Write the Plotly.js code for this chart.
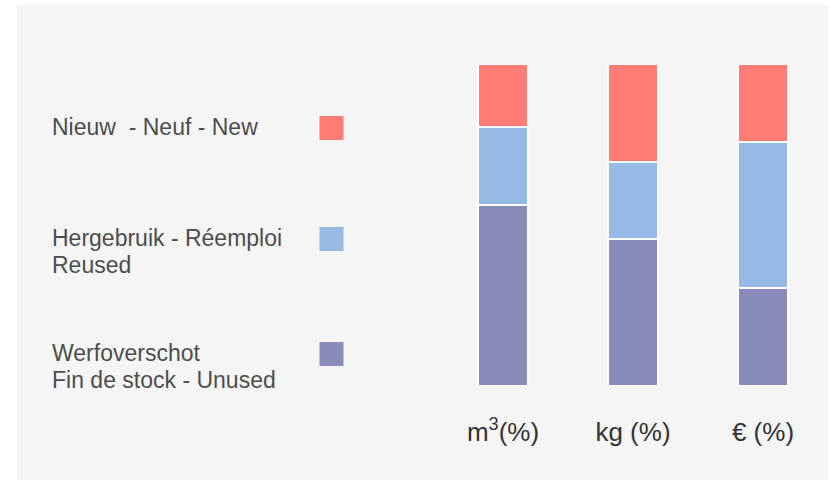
<!DOCTYPE html>
<html><head><meta charset="utf-8">
<script src="https://cdn.plot.ly/plotly-3.0.1.min.js"></script>
<style>html,body{margin:0;padding:0;background:#fff}</style>
</head><body><div id="chart" style="width:831px;height:482px"></div>
<script>
// ---- data ----
const categories = ["m<sup>3</sup>(%)", "kg (%)", "€ (%)"];
const seriesNames = ["Werfoverschot<br>Fin de stock - Unused", "Hergebruik - Réemploi<br>Reused", "Nieuw  - Neuf - New"];
const unusedValues = [56.2, 45.8, 30.5];
const reusedValues = [24.2, 23.7, 45.2];
const newValues = [19.6, 30.5, 24.3];
const seriesColors = ["#898cb9", "#97b9e5", "#fe7c74"];

// ---- layout geometry (pixels) ----
const W = 831, H = 482;
const M = {l: 438, r: 3, t: 64, b: 96};
const PW = W - M.l - M.r, PH = H - M.t - M.b;
const px2x = px => (px - M.l) / PW;
const py2y = py => (H - M.b - py) / PH;
const FONT = "Liberation Sans, Arial, sans-serif";

const seriesValues = [unusedValues, reusedValues, newValues];
const traces = seriesValues.map((vals, i) => ({
  type: "bar",
  name: seriesNames[i],
  x: categories,
  y: vals,
  width: 50 / 130,
  marker: {color: seriesColors[i], line: {color: "#ffffff", width: 2}},
  hoverinfo: "skip"
}));

// custom legend (text left, swatch right), top to bottom: New, Reused, Unused
const swatchTops = [116, 227, 342];
const shapes = [{
  type: "rect", xref: "paper", yref: "paper", layer: "below",
  x0: px2x(17), x1: px2x(828), y0: py2y(480), y1: py2y(5),
  fillcolor: "#f5f5f5", line: {width: 0}
}];
const annotations = [];
[2, 1, 0].forEach((si, k) => {
  const top = swatchTops[k];
  shapes.push({
    type: "rect", xref: "paper", yref: "paper",
    x0: px2x(319.5), x1: px2x(343.5), y0: py2y(top + 24), y1: py2y(top),
    fillcolor: seriesColors[si], line: {width: 0}
  });
  seriesNames[si].split("<br>").forEach((line, j) => {
    annotations.push({
      xref: "paper", yref: "paper", x: px2x(50), y: py2y(top + 11 + j * 26.7),
      xanchor: "left", yanchor: "middle", showarrow: false,
      text: line, font: {family: FONT, size: 23, color: "#4d4d4d"}
    });
  });
});

const layout = {
  width: W, height: H,
  margin: M,
  paper_bgcolor: "#ffffff",
  plot_bgcolor: "rgba(0,0,0,0)",
  barmode: "stack",
  showlegend: false,
  xaxis: {
    type: "category", range: [-0.5, 2.5],
    showgrid: false, zeroline: false, showline: false, ticks: "",
    tickfont: {family: FONT, size: 26, color: "#333333"},
    ticklabelstandoff: 28, fixedrange: true
  },
  yaxis: {range: [0, 100], visible: false, fixedrange: true},
  shapes: shapes,
  annotations: annotations,
  font: {family: FONT}
};

Plotly.newPlot("chart", traces, layout, {displayModeBar: false, staticPlot: true});
</script>
</body></html>
